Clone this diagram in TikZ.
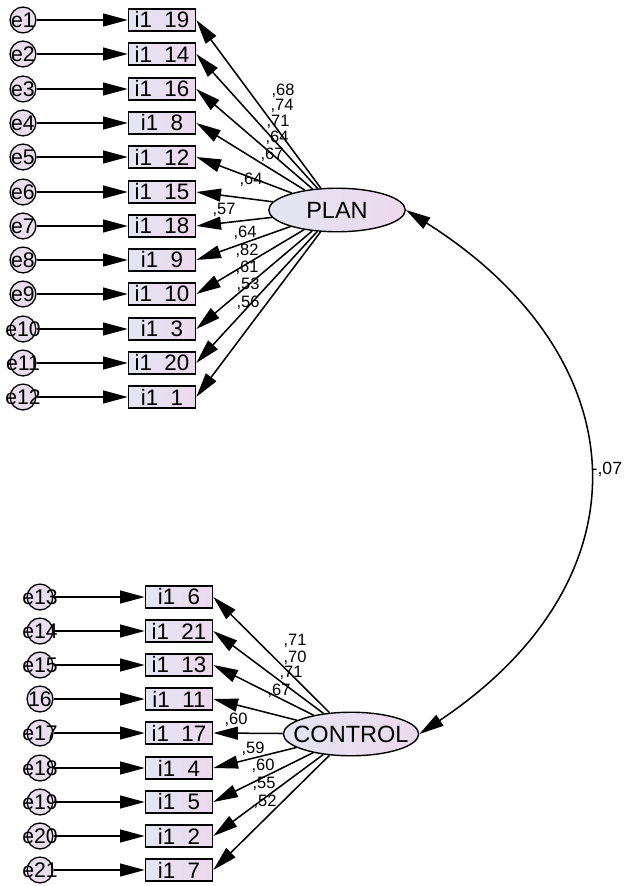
\documentclass[tikz,border=0pt]{standalone}
\usepackage{xcolor}
\usepackage{fontspec}
\setmainfont{Liberation Sans}
\usetikzlibrary{shapes, arrows.meta, positioning}
\definecolor{boxblue}{RGB}{226,230,243}
\definecolor{boxpink}{RGB}{238,216,238}
\definecolor{errfill}{RGB}{233,221,238}

\begin{document}
\begin{tikzpicture}[x=0.85pt,y=-0.85pt]
        \useasboundingbox (0,0) rectangle (640,886);
        % error terms
        \begin{scope}[every node/.style={draw,circle,line width=1.1pt,fill=errfill,minimum size=22pt,inner sep=0pt,font=\fontsize{18}{19}\selectfont}]
          \node (e1) at (23,20) {\makebox[0pt]{e1}};
          \node (e2) at (23,54) {\makebox[0pt]{e2}};
          \node (e3) at (23,89) {\makebox[0pt]{e3}};
          \node (e4) at (23,123) {\makebox[0pt]{e4}};
          \node (e5) at (23,157) {\makebox[0pt]{e5}};
          \node (e6) at (23,192) {\makebox[0pt]{e6}};
          \node (e7) at (23,226) {\makebox[0pt]{e7}};
          \node (e8) at (23,260) {\makebox[0pt]{e8}};
          \node (e9) at (23,294) {\makebox[0pt]{e9}};
          \node (e10) at (23,329) {\makebox[0pt]{e10}};
          \node (e11) at (23,363) {\makebox[0pt]{e11}};
          \node (e12) at (23,397) {\makebox[0pt]{e12}};
          \node (e13) at (40,597) {\makebox[0pt]{e13}};
          \node (e14) at (40,631) {\makebox[0pt]{e14}};
          \node (e15) at (40,665) {\makebox[0pt]{e15}};
          \node (e16) at (40,699) {\makebox[0pt]{16}};
          \node (e17) at (40,733) {\makebox[0pt]{e17}};
          \node (e18) at (40,768) {\makebox[0pt]{e18}};
          \node (e19) at (40,802) {\makebox[0pt]{e19}};
          \node (e20) at (40,836) {\makebox[0pt]{e20}};
          \node (e21) at (40,870) {\makebox[0pt]{e21}};
        \end{scope}
        % observed items
        \begin{scope}[every node/.style={draw,rectangle,line width=1.3pt,left color=boxblue,right color=boxpink,minimum width=57pt,minimum height=19pt,inner sep=0pt,font=\fontsize{19}{20}\selectfont}]
          \node (i19) at (162,20) {i1~~19};
          \node (i14) at (162,54) {i1~~14};
          \node (i16) at (162,89) {i1~~16};
          \node (i8) at (162,123) {i1~~8};
          \node (i12) at (162,157) {i1~~12};
          \node (i15) at (162,192) {i1~~15};
          \node (i18) at (162,226) {i1~~18};
          \node (i9) at (162,260) {i1~~9};
          \node (i10) at (162,294) {i1~~10};
          \node (i3) at (162,329) {i1~~3};
          \node (i20) at (162,363) {i1~~20};
          \node (i1) at (162,397) {i1~~1};
          \node (i6) at (179,597) {i1~~6};
          \node (i21) at (179,631) {i1~~21};
          \node (i13) at (179,665) {i1~~13};
          \node (i11) at (179,699) {i1~~11};
          \node (i17) at (179,733) {i1~~17};
          \node (i4) at (179,768) {i1~~4};
          \node (i5) at (179,802) {i1~~5};
          \node (i2) at (179,836) {i1~~2};
          \node (i7) at (179,870) {i1~~7};
        \end{scope}
        % latent factors
        \begin{scope}[every node/.style={draw,ellipse,line width=1.2pt,left color=boxblue,right color=boxpink,inner sep=0pt,minimum height=37pt,font=\fontsize{20}{21}\selectfont}]
          \node[minimum width=116pt] (plan) at (337,210) {\makebox[0pt]{PLAN}};
          \node[minimum width=115pt] (control) at (351,734) {\makebox[0pt]{CONTROL}};
        \end{scope}
        \begin{scope}[every edge/.style={draw=black,line width=1.3pt,-{Triangle[length=21pt,width=11pt]}}]
          \path (e1) edge (i19.west);
          \path (e2) edge (i14.west);
          \path (e3) edge (i16.west);
          \path (e4) edge (i8.west);
          \path (e5) edge (i12.west);
          \path (e6) edge (i15.west);
          \path (e7) edge (i18.west);
          \path (e8) edge (i9.west);
          \path (e9) edge (i10.west);
          \path (e10) edge (i3.west);
          \path (e11) edge (i20.west);
          \path (e12) edge (i1.west);
          \path (e13) edge (i6.west);
          \path (e14) edge (i21.west);
          \path (e15) edge (i13.west);
          \path (e16) edge (i11.west);
          \path (e17) edge (i17.west);
          \path (e18) edge (i4.west);
          \path (e19) edge (i5.west);
          \path (e20) edge (i2.west);
          \path (e21) edge (i7.west);
          % loadings
          \path (plan) edge (i19.east);
          \path (plan) edge (i14.east);
          \path (plan) edge (i16.east);
          \path (plan) edge (i8.east);
          \path (plan) edge (i12.east);
          \path (plan) edge (i15.east);
          \path (plan) edge (i18.east);
          \path (plan) edge (i9.east);
          \path (plan) edge (i10.east);
          \path (plan) edge (i3.east);
          \path (plan) edge (i20.east);
          \path (plan) edge (i1.east);
          \path (control) edge (i6.east);
          \path (control) edge (i21.east);
          \path (control) edge (i13.east);
          \path (control) edge (i11.east);
          \path (control) edge (i17.east);
          \path (control) edge (i4.east);
          \path (control) edge (i5.east);
          \path (control) edge (i2.east);
          \path (control) edge (i7.east);
        \end{scope}
        \begin{scope}[every node/.style={inner sep=0pt,font=\fontsize{14}{15}\selectfont}]
          \node (w1) at (283,91) {,68};
          \node (w2) at (282,106) {,74};
          \node (w3) at (278,122) {,71};
          \node (w4) at (277,138) {,64};
          \node (w5) at (272,155) {,67};
          \node (w6) at (251,180) {,64};
          \node (w7) at (224,210) {,57};
          \node (w8) at (245,233) {,64};
          \node (w9) at (247,251) {,82};
          \node (w10) at (247,268) {,61};
          \node (w11) at (248,285) {,53};
          \node (w12) at (248,303) {,56};
          \node (w13) at (295,641) {,71};
          \node (w14) at (295,658) {,70};
          \node (w15) at (291,673) {,71};
          \node (w16) at (279,691) {,67};
          \node (w17) at (236,720) {,60};
          \node (w18) at (253,749) {,59};
          \node (w19) at (263,766) {,60};
          \node (w20) at (264,784) {,55};
          \node (w21) at (265,802) {,52};
        \end{scope}
        % covariance
        \draw[line width=1.3pt,{Triangle[length=21pt,width=11pt]}-{Triangle[length=21pt,width=11pt]}] (plan.east) .. controls +(234,148) and +(232,-155) .. (control.east)
          node[pos=0.5,anchor=west,inner sep=3pt,font=\fontsize{15}{16}\selectfont] (r) {-,07};
      \end{tikzpicture}
\end{document}
